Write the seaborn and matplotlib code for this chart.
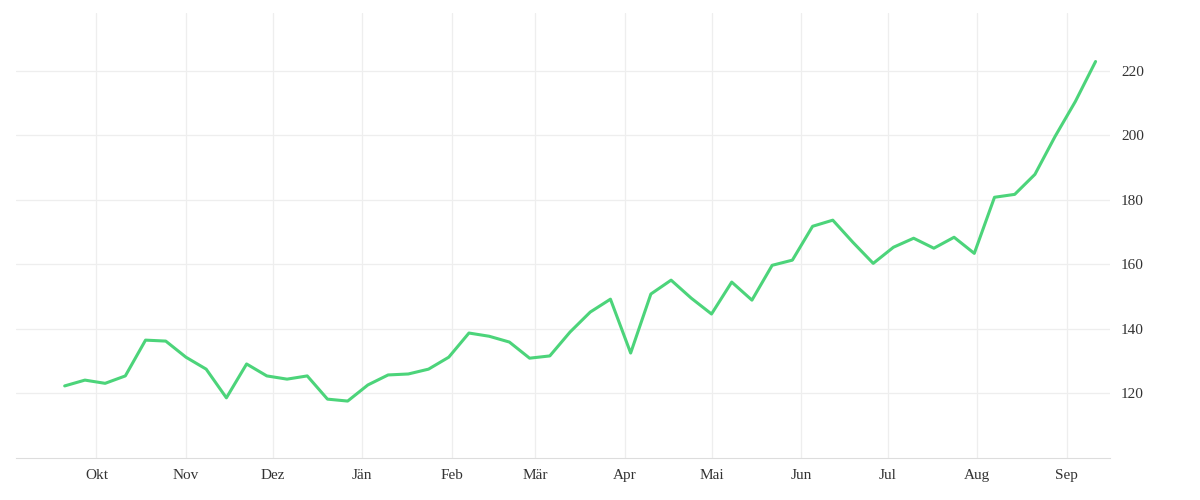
import pandas as pd
import matplotlib.pyplot as plt
import matplotlib.dates as mdates
import seaborn as sns

values = [122.2, 124.0, 123.0, 125.3, 136.4, 136.1, 131.1, 127.4, 118.5, 129.0,
          125.3, 124.3, 125.3, 118.1, 117.5, 122.5, 125.6, 125.9, 127.4, 131.1,
          138.6, 137.6, 135.8, 130.8, 131.5, 138.9, 145.1, 149.1, 132.4, 150.7,
          155.0, 149.4, 144.5, 154.4, 148.8, 159.6, 161.2, 171.7, 173.6, 166.7,
          160.2, 165.2, 168.0, 164.9, 168.3, 163.3, 180.7, 181.6, 187.8, 199.6,
          210.4, 222.8]
dates = pd.date_range("2023-09-20", periods=len(values), freq="7D")
month_labels = ["Okt", "Nov", "Dez", "Jän", "Feb", "Mär", "Apr", "Mai", "Jun", "Jul", "Aug", "Sep"]
month_ticks = pd.date_range("2023-10-01", periods=12, freq="MS")
y_ticks = [120, 140, 160, 180, 200, 220]

df = pd.DataFrame({"date": dates, "value": values})

sns.set_style("white")
plt.rcParams["font.family"] = ["Liberation Serif", "DejaVu Serif"]

fig, ax = plt.subplots(figsize=(12, 5), dpi=100)
fig.subplots_adjust(left=0.013, right=0.925, top=0.975, bottom=0.085)
sns.lineplot(data=df, x="date", y="value", color="#4cd47a", linewidth=2.2, ax=ax)

ax.set_xlim(pd.Timestamp("2023-09-03"), pd.Timestamp("2024-09-16"))
ax.set_ylim(100, 238)
ax.set_xticks(month_ticks)
ax.set_xticklabels(month_labels)
ax.set_yticks(y_ticks)
ax.yaxis.tick_right()
ax.tick_params(length=0, labelsize=11, colors="#333333", pad=8)
ax.grid(True, color="#eeeeee", linewidth=0.9)
for s in ["top", "left", "right"]:
    ax.spines[s].set_visible(False)
ax.spines["bottom"].set_color("#dddddd")
ax.set_xlabel("")
ax.set_ylabel("")

plt.savefig("out.png")
